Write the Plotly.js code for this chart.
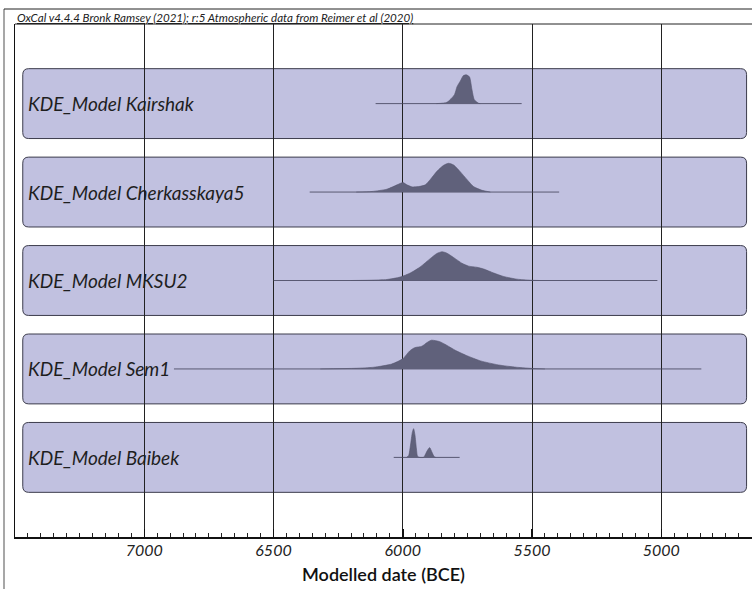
<!DOCTYPE html>
<html>
<head>
<meta charset="utf-8">
<script src="https://cdn.plot.ly/plotly-3.0.1.min.js"></script>
<style>
html, body { margin: 0; padding: 0; overflow: hidden; background: #fff; }
#chart { width: 752px; height: 589px; }
</style>
</head>
<body>
<div id="chart"></div>
<script>
// ---- Data ----
const models = ["Kairshak", "Cherkasskaya5", "MKSU2", "Sem1", "Baibek"];
const labelPrefix = "KDE_Model ";

// Extent of each model's range line (years BCE)
const rangeFrom = [6105, 6360, 6500, 6885, 6035];
const rangeTo   = [5540, 5395, 5015, 4845, 5780];

// Relative probability curves (years BCE, relative density, peak ~1)
const kairshakYears = [5870, 5829, 5800, 5790, 5777, 5766, 5754, 5742, 5732, 5723, 5706, 5700];
const kairshakProb  = [0, 0.045, 0.31, 0.59, 0.79, 0.97, 1.0, 0.93, 0.47, 0.13, 0.01, 0];

const cherkYears = [6180, 6119, 6061, 6022, 5999, 5984, 5964, 5939, 5913, 5894, 5868, 5842, 5823, 5803, 5777, 5751, 5726, 5693, 5661];
const cherkProb  = [0, 0.02, 0.10, 0.25, 0.33, 0.25, 0.18, 0.19, 0.25, 0.43, 0.72, 0.93, 1.0, 0.94, 0.70, 0.43, 0.19, 0.06, 0];

const mksuYears = [6200, 6126, 6061, 6010, 5971, 5932, 5894, 5868, 5848, 5829, 5797, 5771, 5745, 5713, 5687, 5648, 5610, 5558, 5506, 5470];
const mksuProb  = [0, 0.01, 0.036, 0.12, 0.26, 0.475, 0.76, 0.94, 1.0, 0.95, 0.76, 0.60, 0.50, 0.46, 0.40, 0.26, 0.14, 0.046, 0.01, 0];

const sem1Years = [6319, 6181, 6112, 6043, 5999, 5974, 5954, 5926, 5906, 5889, 5857, 5837, 5795, 5754, 5699, 5630, 5561, 5492, 5450];
const sem1Prob  = [0, 0.023, 0.06, 0.17, 0.36, 0.62, 0.74, 0.79, 0.92, 1.0, 0.95, 0.86, 0.64, 0.47, 0.28, 0.14, 0.06, 0.013, 0];

const baibekYears = [5985, 5977, 5970, 5963, 5958, 5953, 5947, 5943, 5935, 5920, 5916, 5906, 5896, 5887, 5878, 5872];
const baibekProb  = [0, 0.07, 0.43, 0.87, 1.0, 0.79, 0.29, 0.04, 0, 0, 0.04, 0.22, 0.34, 0.18, 0.02, 0];

const tickVals = [7000, 6500, 6000, 5500, 5000];
const tickText = ["7000", "6500", "6000", "5500", "5000"];

const curveYears = [kairshakYears, cherkYears, mksuYears, sem1Years, baibekYears];
const curveProb  = [kairshakProb, cherkProb, mksuProb, sem1Prob, baibekProb];

// ---- Styling ----
const FONT = "Lato, 'Open Sans', sans-serif";
const xRange = [7500, 4649];
const yRange = [0.1, 5.9];
const curveScale = 0.325;          // height of a peak in y units
const panelHalf = 0.395;           // half height of panel in y units
const panelLeft = 7470, panelRight = 4670;
const rx = 23, ry = 0.068;         // corner radius in data units

const traces = [];
const shapes = [];
const annotations = [];

models.forEach((m, i) => {
  const base = models.length - i;
  // range line
  traces.push({
    type: "scatter", mode: "lines",
    x: [rangeFrom[i], rangeTo[i]], y: [base, base],
    line: { color: "rgba(70,70,95,0.85)", width: 1 },
    hoverinfo: "skip", showlegend: false
  });
  // distribution
  traces.push({
    type: "scatter", mode: "lines",
    x: curveYears[i], y: curveProb[i].map(p => base + p * curveScale),
    fill: "toself", fillcolor: "#60617b",
    line: { color: "#55566e", width: 0.6, shape: "spline", smoothing: 0.6 },
    hoverinfo: "skip", showlegend: false
  });
  // rounded panel
  const L = panelLeft, R = panelRight, B = base - panelHalf, T = base + panelHalf;
  const path = `M ${L - rx},${B} L ${R + rx},${B} Q ${R},${B} ${R},${B + ry} ` +
               `L ${R},${T - ry} Q ${R},${T} ${R + rx},${T} ` +
               `L ${L - rx},${T} Q ${L},${T} ${L},${T - ry} ` +
               `L ${L},${B + ry} Q ${L},${B} ${L - rx},${B} Z`;
  shapes.push({
    type: "path", path: path, xref: "x", yref: "y", layer: "below",
    fillcolor: "#c1c1e0", line: { color: "#3c3c4c", width: 1 }
  });
  annotations.push({
    x: 7458, y: base, xref: "x", yref: "y", xanchor: "left", yanchor: "middle",
    text: labelPrefix + m, showarrow: false,
    font: { family: FONT, size: 19, style: "italic", color: "#1e1e1e" }
  });
});

// frame lines
const px = v => (v - 15) / 737;
const py = v => (537 - v) / 513;
shapes.push({ type: "line", xref: "paper", yref: "paper", x0: 0, x1: 1, y0: 1, y1: 1,
  line: { color: "#222", width: 1 } });
shapes.push({ type: "line", xref: "paper", yref: "paper", x0: px(4), x1: px(4), y0: py(9), y1: py(600),
  line: { color: "#8a8a8a", width: 1.5 } });
shapes.push({ type: "line", xref: "paper", yref: "paper", x0: px(4), x1: 1.1, y0: py(9), y1: py(9),
  line: { color: "#222", width: 1 } });

annotations.push({
  xref: "paper", yref: "paper", x: px(15), y: py(17), xanchor: "left", yanchor: "middle",
  showarrow: false,
  text: "<span style='text-decoration:underline'>OxCal v4.4.4 Bronk Ramsey (2021); r:5 Atmospheric data from Reimer et al (2020)</span>",
  font: { family: FONT, size: 11.6, style: "italic", color: "#222" }
});

const layout = {
  width: 752, height: 589,
  margin: { l: 15, r: 0, t: 24, b: 52 },
  paper_bgcolor: "#ffffff", plot_bgcolor: "#ffffff",
  showlegend: false,
  xaxis: {
    range: xRange, tickmode: "array", tickvals: tickVals, ticktext: tickText,
    ticks: "inside", ticklen: 8, tickwidth: 1.5, tickcolor: "#111",
    showgrid: true, gridcolor: "#222", gridwidth: 1,
    showline: true, linecolor: "#111", linewidth: 2, zeroline: false,
    tickfont: { family: FONT, size: 16, style: "italic", color: "#222" },
    ticklabelstandoff: -2,
    minor: { tickmode: "linear", tick0: 0, dtick: 50, ticks: "inside", ticklen: 4, tickwidth: 1, tickcolor: "#222", showgrid: false },
    title: { text: "Modelled date (BCE)", font: { family: FONT, size: 18, weight: 600, color: "#111" }, standoff: 10 },
    automargin: false, fixedrange: true
  },
  yaxis: {
    range: yRange, showticklabels: false, ticks: "", showgrid: false, zeroline: false,
    showline: true, linecolor: "#111", linewidth: 1.5, automargin: false, fixedrange: true
  },
  shapes: shapes,
  annotations: annotations
};

Plotly.newPlot("chart", traces, layout, { staticPlot: true, displayModeBar: false });
</script>
</body>
</html>
